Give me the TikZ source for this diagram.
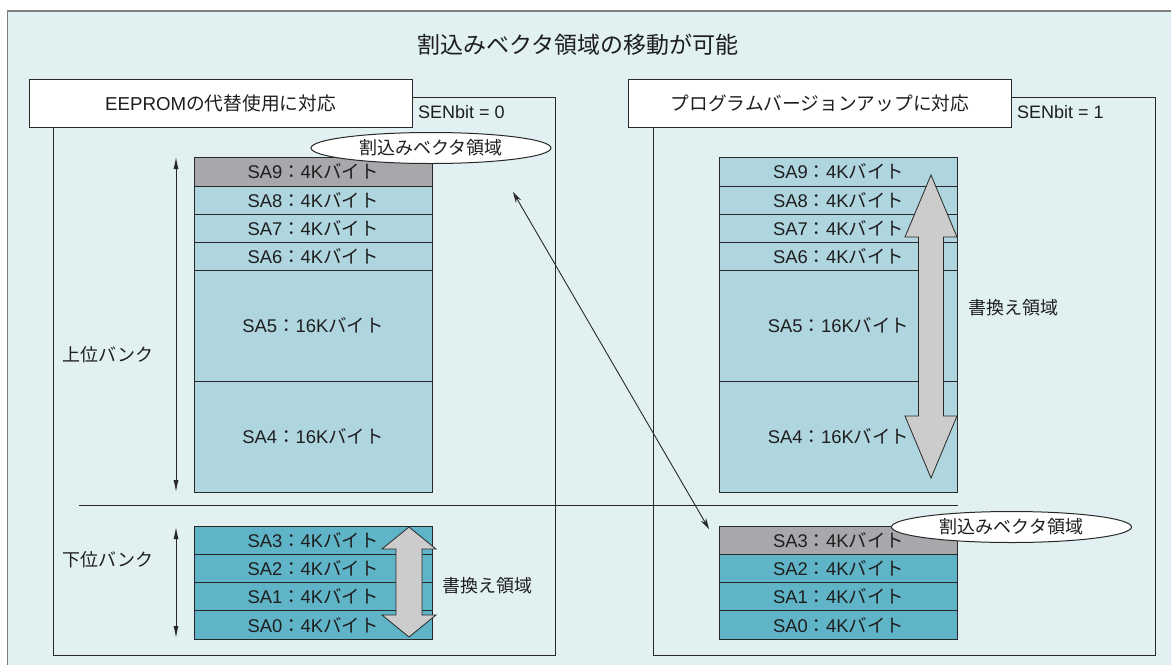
\documentclass[tikz,border=0pt]{standalone}
\usepackage{fontspec}
\setmainfont{Liberation Sans}
\newfontfamily\jp{Noto Sans CJK JP}
\usetikzlibrary{arrows.meta,shapes.geometric}
\definecolor{bgc}{RGB}{225,241,242}
\definecolor{framec}{RGB}{125,125,125}
\definecolor{linec}{RGB}{40,40,40}
\definecolor{txtc}{RGB}{30,30,30}
\definecolor{memlight}{RGB}{175,213,223}
\definecolor{memteal}{RGB}{96,180,199}
\definecolor{memgray}{RGB}{167,168,171}
\definecolor{arrgray}{RGB}{204,204,204}
\newcommand\memlab[2]{#1{\jp ：}#2{\jp バイト}}
\begin{document}
\begin{tikzpicture}[x=1pt,y=-1pt,
  font=\fontsize{18}{21}\selectfont, text=txtc,
  mem/.style={draw=linec, line width=1pt, minimum width=238, inner sep=0, outer sep=0, anchor=north west, font=\fontsize{18.4}{21}\selectfont},
  panel/.style={draw=linec, line width=1pt},
  titlebox/.style={draw=linec, line width=1pt, fill=white, minimum width=383, minimum height=48, inner sep=0, font=\fontsize{18.7}{21}\selectfont},
  tag/.style={draw=linec, line width=1pt, fill=white, ellipse, minimum width=240, minimum height=31, inner sep=0},
  bigarrow/.style={draw=linec, line width=0.8pt, fill=arrgray},
  thinarrow/.style={draw=linec, line width=0.9pt, {Stealth[length=11pt,width=6pt]}-{Stealth[length=11pt,width=6pt]}},
  bankarrow/.style={draw=linec, line width=0.9pt, {Latex[length=12pt,width=5pt]}-{Latex[length=12pt,width=5pt]}},
  label/.style={inner sep=0}]
\useasboundingbox (0,0) rectangle (1171,665);
% background and frame
\fill[bgc] (7.5,11) rectangle (1171,665);
\draw[framec, line width=1.5pt] (7.5,665) -- (7.5,11) -- (1171,11);
% main title
\node[label, font=\fontsize{23}{26}\selectfont] (title) at (578,45) {\jp 割込みベクタ領域の移動が可能};
% panels
\draw[panel] (53,97) rectangle (555,655);
\draw[panel] (653,97) rectangle (1155,655);
\node[titlebox] (tleft) at (220.5,103) {EEPROM{\jp の代替使用に対応}};
\node[titlebox] (tright) at (820,103) {\jp プログラムバージョンアップに対応};
\node[label, anchor=west] (sen0) at (418,112) {SENbit = 0};
\node[label, anchor=west] (sen1) at (1017,112) {SENbit = 1};
% left memory (upper bank)
\node[mem, fill=memgray, minimum height=29] (L9) at (194,157) {\memlab{SA9}{4K}};
\node[mem, fill=memlight, minimum height=28] (L8) at (L9.south west) {\memlab{SA8}{4K}};
\node[mem, fill=memlight, minimum height=28] (L7) at (L8.south west) {\memlab{SA7}{4K}};
\node[mem, fill=memlight, minimum height=28] (L6) at (L7.south west) {\memlab{SA6}{4K}};
\node[mem, fill=memlight, minimum height=111] (L5) at (L6.south west) {\memlab{SA5}{16K}};
\node[mem, fill=memlight, minimum height=111] (L4) at (L5.south west) {\memlab{SA4}{16K}};
% left memory (lower bank)
\node[mem, fill=memteal, minimum height=28.25] (L3) at (194,526) {\memlab{SA3}{4K}};
\node[mem, fill=memteal, minimum height=28.25] (L2) at (L3.south west) {\memlab{SA2}{4K}};
\node[mem, fill=memteal, minimum height=28.25] (L1) at (L2.south west) {\memlab{SA1}{4K}};
\node[mem, fill=memteal, minimum height=28.25] (L0) at (L1.south west) {\memlab{SA0}{4K}};
% right memory (upper bank)
\node[mem, fill=memlight, minimum height=29] (R9) at (719.5,157) {\memlab{SA9}{4K}};
\node[mem, fill=memlight, minimum height=28] (R8) at (R9.south west) {\memlab{SA8}{4K}};
\node[mem, fill=memlight, minimum height=28] (R7) at (R8.south west) {\memlab{SA7}{4K}};
\node[mem, fill=memlight, minimum height=28] (R6) at (R7.south west) {\memlab{SA6}{4K}};
\node[mem, fill=memlight, minimum height=111] (R5) at (R6.south west) {\memlab{SA5}{16K}};
\node[mem, fill=memlight, minimum height=111] (R4) at (R5.south west) {\memlab{SA4}{16K}};
% right memory (lower bank)
\node[mem, fill=memgray, minimum height=28.25] (R3) at (719.5,526) {\memlab{SA3}{4K}};
\node[mem, fill=memteal, minimum height=28.25] (R2) at (R3.south west) {\memlab{SA2}{4K}};
\node[mem, fill=memteal, minimum height=28.25] (R1) at (R2.south west) {\memlab{SA1}{4K}};
\node[mem, fill=memteal, minimum height=28.25] (R0) at (R1.south west) {\memlab{SA0}{4K}};
% bank divider
\coordinate (divL) at (79,505);
\coordinate (divR) at (958,505);
\draw[linec, line width=1pt] (divL) -- (divR);
% big rewrite arrows
\draw[bigarrow] (409,527) -- (436,549) -- (422,549) -- (422,615) -- (436,615) -- (409,637)
  -- (382,615) -- (396,615) -- (396,549) -- (382,549) -- cycle;
\draw[bigarrow] (931,175) -- (957,237) -- (943.5,237) -- (943.5,416) -- (957,416) -- (931,478)
  -- (905,416) -- (918.5,416) -- (918.5,237) -- (905,237) -- cycle;
\node[label] (rwL) at (487,586) {\jp 書換え領域};
\node[label] (rwR) at (1013,308) {\jp 書換え領域};
% vector area tags
\node[tag] (vL) at (431,148) {\jp 割込みベクタ領域};
\node[tag] (vR) at (1011.5,527) {\jp 割込みベクタ領域};
% move arrow
\coordinate (mvA) at (513,192);
\coordinate (mvB) at (709,529);
\draw[thinarrow] (mvA) -- (mvB);
% bank arrows and labels
\coordinate (ubT) at (176,157);
\coordinate (ubB) at (176,492);
\coordinate (lbT) at (176,527);
\coordinate (lbB) at (176,638);
\draw[bankarrow] (ubT) -- (ubB);
\draw[bankarrow] (lbT) -- (lbB);
\node[label] (ub) at (108,355) {\jp 上位バンク};
\node[label] (lb) at (108,560) {\jp 下位バンク};
\end{tikzpicture}
\end{document}
